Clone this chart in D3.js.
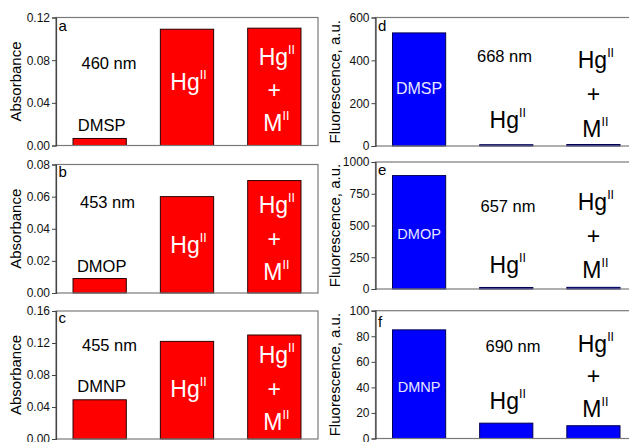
<!DOCTYPE html>
<html><head><meta charset="utf-8">
<script src="https://cdn.jsdelivr.net/npm/d3@7/dist/d3.min.js"></script>
<style>
body{margin:0;background:#fff;}
svg{display:block;font-family:Arial,"Liberation Sans",sans-serif;}
</style></head>
<body><svg id="chart" width="629" height="442"></svg>
<script>
// ---- data ----
const categories = ["probe", "HgII", "HgII + MII"];
const probeNames = ["DMSP", "DMOP", "DMNP"];
const panelLetters = ["a", "b", "c", "d", "e", "f"];
const absWavelengths = ["460 nm", "453 nm", "455 nm"];
const fluWavelengths = ["668 nm", "657 nm", "690 nm"];
const absDMSP = [0.0066, 0.109, 0.110];
const absDMOP = [0.009, 0.060, 0.070];
const absDMNP = [0.049, 0.122, 0.130];
const fluDMSP = [528, 6, 7];
const fluDMOP = [893, 12, 13];
const fluDMNP = [85, 12, 10];
const absTicksA = [0, 0.04, 0.08, 0.12];
const absTicksB = [0, 0.02, 0.04, 0.06, 0.08];
const absTicksC = [0, 0.04, 0.08, 0.12, 0.16];
const fluTicksD = [0, 200, 400, 600];
const fluTicksE = [0, 250, 500, 750, 1000];
const fluTicksF = [0, 20, 40, 60, 80, 100];

// ---- layout (positions only, in code) ----
const svg = d3.select("#chart");
const L = {x0: 56, x1: 318}, R = {x0: 375.5, x1: 637};
const panels = [
  {letter: panelLetters[0], vals: absDMSP, ticks: absTicksA, fmt: d3.format(".2f"), side: L, top: 17.5, bot: 145.5, kind: "abs", probe: probeNames[0], nm: absWavelengths[0],
   lt: 13, nmx: 109, nmy: 51, py: 113.5, h2: 72.7, h3: [47, 72.7, 113.7]},
  {letter: panelLetters[1], vals: absDMOP, ticks: absTicksB, fmt: d3.format(".2f"), side: L, top: 164.5, bot: 293, kind: "abs", probe: probeNames[1], nm: absWavelengths[1],
   lt: 12.8, nmx: 107.5, nmy: 43.8, py: 107.2, h2: 88.2, h3: [48.2, 74.8, 115.5]},
  {letter: panelLetters[2], vals: absDMNP, ticks: absTicksC, fmt: d3.format(".2f"), side: L, top: 311, bot: 439, kind: "abs", probe: probeNames[2], nm: absWavelengths[2],
   lt: 12.3, nmx: 109.5, nmy: 40, py: 81.3, h2: 85.7, h3: [51.7, 78, 119]},
  {letter: panelLetters[3], vals: fluDMSP, ticks: fluTicksD, fmt: d3.format("d"), side: R, top: 17.5, bot: 146, kind: "flu", probe: probeNames[0], nm: fluWavelengths[0],
   lt: 13.5, nmx: 504.5, nmy: 44.2, py: 76.5, pfs: 16, h2: 110.8, h3: [50.8, 76.8, 119.2]},
  {letter: panelLetters[4], vals: fluDMOP, ticks: fluTicksE, fmt: d3.format("d"), side: R, top: 162, bot: 289, kind: "flu", probe: probeNames[1], nm: fluWavelengths[1],
   lt: 13, nmx: 508, nmy: 49.7, py: 77.3, pfs: 14.5, h2: 111.3, h3: [48, 74.7, 116.3]},
  {letter: panelLetters[5], vals: fluDMNP, ticks: fluTicksF, fmt: d3.format("d"), side: R, top: 310.7, bot: 438.5, kind: "flu", probe: probeNames[2], nm: fluWavelengths[2],
   lt: 16, nmx: 513, nmy: 41, py: 81.6, pfs: 14.5, h2: 98.3, h3: [41, 66, 106]}
];

function hgText(g, x, y, color, prefix) {
  const t = g.append("text").attr("x", x).attr("y", y).attr("text-anchor", "middle")
    .attr("fill", color).attr("font-size", 23);
  t.append("tspan").text(prefix);
  t.append("tspan").attr("font-size", 12.5).attr("dy", -11).text("II");
  return t;
}

panels.forEach(p => {
  const g = svg.append("g");
  const x = d3.scaleBand().domain(categories).range([p.side.x0, p.side.x1]).paddingInner(0.39).paddingOuter(0.195);
  const y = d3.scaleLinear().domain([p.ticks[0], p.ticks[p.ticks.length - 1]]).range([p.bot, p.top]);
  const fill = p.kind === "abs" ? "#ff0000" : "#0000ff";
  const stroke = p.kind === "abs" ? "#2a0000" : "#000050";

  // bars
  g.selectAll("rect.bar").data(p.vals).join("rect").attr("class", "bar")
    .attr("x", (d, i) => x(categories[i]))
    .attr("width", x.bandwidth())
    .attr("y", d => y(d))
    .attr("height", d => y(0) - y(d))
    .attr("fill", fill).attr("stroke", stroke).attr("stroke-width", 1);

  // frame
  g.append("rect").attr("x", p.side.x0).attr("y", p.top)
    .attr("width", p.side.x1 - p.side.x0).attr("height", p.bot - p.top)
    .attr("fill", "none").attr("stroke", "#7a7a7a").attr("stroke-width", 1.2);

  // y axis
  const ax = g.append("g").attr("transform", `translate(${p.side.x0},0)`)
    .call(d3.axisLeft(y).tickValues(p.ticks).tickFormat(p.fmt).tickSize(4).tickPadding(2));
  ax.select(".domain").attr("stroke", "#444").attr("stroke-width", 1.2);
  ax.selectAll(".tick line").attr("stroke", "#444");
  ax.selectAll(".tick text").attr("font-size", 12).attr("fill", "#111")
    .attr("font-family", "Arial, 'Liberation Sans', sans-serif");

  // panel letter
  g.append("text").attr("x", p.side.x0 + 2.5).attr("y", p.top + p.lt)
    .attr("font-size", 15).attr("fill", "#000").text(p.letter);

  // wavelength
  g.append("text").attr("x", p.nmx).attr("y", p.top + p.nmy).attr("text-anchor", "middle")
    .attr("font-size", 16.5).attr("fill", "#000").text(p.nm);

  const c1 = x(categories[0]) + x.bandwidth() / 2;
  const c2 = x(categories[1]) + x.bandwidth() / 2;
  const c3 = x(categories[2]) + x.bandwidth() / 2;
  const inColor = p.kind === "abs" ? "#ffffff" : "#000000";

  // probe label
  g.append("text").attr("x", c1 + (p.kind === "abs" ? 2 : 0)).attr("y", p.top + p.py).attr("text-anchor", "middle")
    .attr("font-size", p.kind === "abs" ? 16.5 : p.pfs)
    .attr("fill", p.kind === "abs" ? "#000" : "#e8e8ff").text(p.probe);

  // Hg(II) label over / in bar 2
  hgText(g, c2 + 1.5, p.top + p.h2, inColor, "Hg");

  // Hg(II) + M(II) label in bar 3
  hgText(g, c3 + 2.5, p.top + p.h3[0], inColor, "Hg");
  g.append("text").attr("x", c3).attr("y", p.top + p.h3[1] + 7.5).attr("text-anchor", "middle")
    .attr("font-size", 23).attr("fill", inColor).text("+");
  hgText(g, c3 + 2, p.top + p.h3[2], inColor, "M");

  // y title
  const tx = p.kind === "abs" ? 21 : 340;
  const ty = (p.top + p.bot) / 2;
  g.append("text").attr("transform", `translate(${tx},${ty}) rotate(-90)`)
    .attr("text-anchor", "middle").attr("font-size", 15).attr("fill", "#000")
    .text(p.kind === "abs" ? "Absorbance" : "Fluorescence, a.u.");
});
</script></body></html>
